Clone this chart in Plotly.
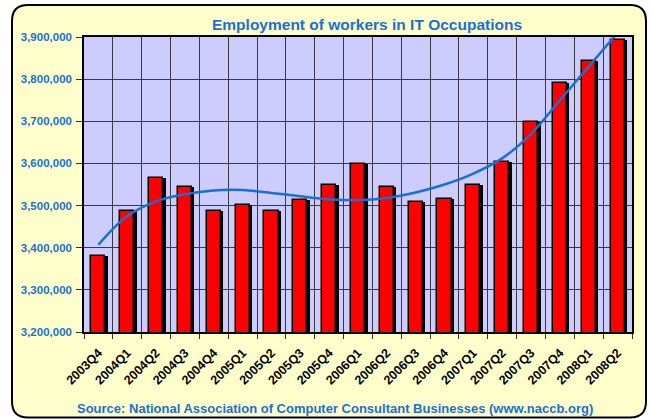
import plotly.graph_objects as go

# ---------------- data ----------------
quarters = ["2003Q4", "2004Q1", "2004Q2", "2004Q3", "2004Q4", "2005Q1", "2005Q2",
            "2005Q3", "2005Q4", "2006Q1", "2006Q2", "2006Q3", "2006Q4", "2007Q1",
            "2007Q2", "2007Q3", "2007Q4", "2008Q1", "2008Q2"]
employment = [3381000, 3486000, 3566000, 3544000, 3488000, 3501000, 3486000,
              3514000, 3548000, 3598000, 3543000, 3509000, 3516000, 3550000,
              3604000, 3699000, 3790000, 3843000, 3892000]
trend = [3407000, 3475000, 3510000, 3527000, 3536000, 3537000, 3530000,
         3522000, 3515000, 3513000, 3518000, 3531000, 3550000, 3576000,
         3612000, 3670000, 3750000, 3830000, 3910000]
y_min, y_max, y_step = 3200000, 3900000, 100000

title_text = "Employment of workers in IT Occupations"
source_text = "Source: National Association of Computer Consultant Businesses (www.naccb.org)"

# ---------------- layout geometry (pixels) ----------------
W, H = 652, 419
L, R, T, B = 84, 20, 37, 87
PW, PH = W - L - R, H - T - B


def px(x):
    return (x - L) / PW


def py(y):
    return (H - B - y) / PH


BLUE = "#1A6FD2"
FONT = "Liberation Sans, Arial, sans-serif"

fig = go.Figure()
# shadow bars
fig.add_bar(x=quarters, y=employment, offset=-0.16, width=0.49,
            marker=dict(color="black", line=dict(width=0)),
            showlegend=False, hoverinfo="skip")
# red bars
fig.add_bar(x=quarters, y=employment, offset=-0.245, width=0.49,
            marker=dict(color="#FF0000", line=dict(color="black", width=1.5)),
            showlegend=False)
# trend line
fig.add_scatter(x=quarters, y=trend, mode="lines",
                line=dict(color=BLUE, width=2.5, shape="spline", smoothing=1.0),
                showlegend=False)

# rounded frame path
x0, x1, y0, y1, r = 12, 646, 5, 417.5, 16


def P(x, y):
    return f"{px(x):.5f},{py(y):.5f}"


path = (f"M {P(x0 + r, y0)} L {P(x1 - r, y0)} Q {P(x1, y0)} {P(x1, y0 + r)} "
        f"L {P(x1, y1 - r)} Q {P(x1, y1)} {P(x1 - r, y1)} "
        f"L {P(x0 + r, y1)} Q {P(x0, y1)} {P(x0, y1 - r)} "
        f"L {P(x0, y0 + r)} Q {P(x0, y0)} {P(x0 + r, y0)} Z")

shapes = [
    dict(type="path", path=path, xref="paper", yref="paper", layer="below",
         fillcolor="#FFFFCC", line=dict(color="black", width=2)),
    dict(type="rect", x0=0, x1=1, y0=0, y1=1, xref="paper", yref="paper",
         layer="below", fillcolor="#CCCCFF", line=dict(width=0)),
]

annotations = [
    dict(text=title_text, xref="paper", yref="paper", x=px(367), y=py(25),
         xanchor="center", yanchor="middle", showarrow=False,
         font=dict(family=FONT, size=15.5, color=BLUE, weight="bold")),
    dict(text=source_text, xref="paper", yref="paper", x=px(335), y=py(408),
         xanchor="center", yanchor="middle", showarrow=False,
         font=dict(family=FONT, size=13, color=BLUE, weight="bold")),
]

fig.update_layout(
    width=W, height=H,
    margin=dict(l=L, r=R, t=T, b=B, pad=0),
    paper_bgcolor="white", plot_bgcolor="rgba(0,0,0,0)",
    barmode="overlay", bargap=0,
    shapes=shapes, annotations=annotations,
    font=dict(family=FONT),
)
fig.update_xaxes(
    type="category", tickson="boundaries", ticks="outside", ticklen=5,
    tickcolor="#333333", tickangle=-45, ticklabelstandoff=7,
    tickfont=dict(family=FONT, size=12.5, color="black", weight="bold"),
    showgrid=True, gridcolor="#3a3a3a", gridwidth=1,
    showline=True, linecolor="black", linewidth=1.5, mirror=True,
    range=[-0.5, len(quarters) - 0.5], fixedrange=True,
)
fig.update_yaxes(
    range=[y_min, y_max], dtick=y_step, tick0=y_min, tickformat=",d",
    ticks="outside", ticklen=6, tickcolor="#333333", ticklabelstandoff=2,
    tickfont=dict(family=FONT, size=11.5, color=BLUE, weight="bold"),
    showgrid=True, gridcolor="#3a3a3a", gridwidth=1,
    showline=True, linecolor="black", linewidth=1.5, mirror=True,
    zeroline=False, fixedrange=True,
)

fig.write_html("out.html")
